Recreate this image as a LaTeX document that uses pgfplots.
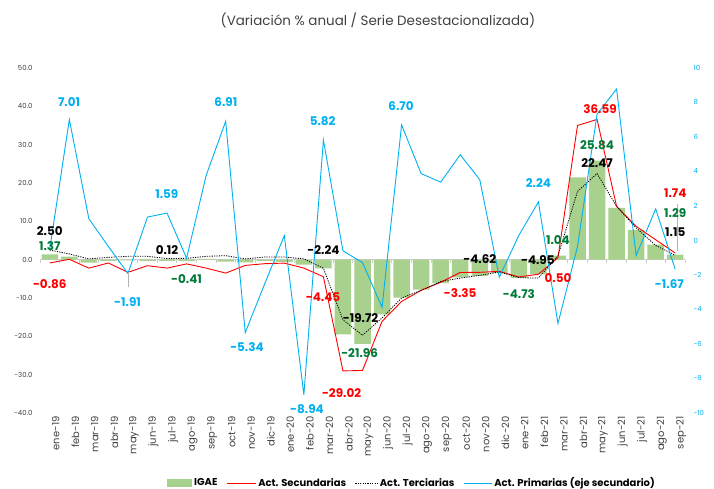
\documentclass[border=0pt]{standalone}
\usepackage{fontspec}
\setmainfont{Poppins}
\usepackage{pgfplots}
\usepackage{pgfplotstable}
\pgfplotsset{compat=1.18}
\definecolor{igae}{RGB}{169,209,142}
\definecolor{pblue}{RGB}{0,176,240}
\definecolor{lgreen}{RGB}{0,122,55}
\definecolor{tgray}{RGB}{64,64,64}
\pgfplotstableread{
x igae sec ter pri
0 1.37 -0.86 2.50 -0.50
1 0.80 0.10 1.50 7.01
2 -0.80 -2.20 0.20 1.26
3 -0.30 -0.87 0.60 -0.35
4 -0.20 -3.30 0.87 -1.91
5 -0.30 -1.57 0.87 1.36
6 -0.30 -2.20 0.30 1.59
7 -0.41 -1.10 0.35 -1.03
8 0.20 -2.20 0.87 3.77
9 -0.50 -3.50 1.04 6.91
10 -0.70 -1.50 0.20 -5.34
11 -0.30 -1.05 0.70 -2.50
12 -0.60 -0.90 0.70 0.28
13 -1.30 -2.20 0.20 -8.94
14 -2.30 -4.45 -2.24 5.82
15 -19.50 -29.02 -15.70 -0.60
16 -21.96 -28.90 -19.72 -1.28
17 -14.30 -16.10 -15.20 -3.88
18 -9.90 -10.90 -10.00 6.70
19 -7.80 -8.00 -8.00 3.88
20 -6.10 -5.90 -5.70 3.38
21 -4.60 -3.35 -4.80 4.97
22 -4.20 -3.30 -4.10 3.53
23 -3.50 -3.05 -3.20 -2.13
24 -4.73 -4.50 -4.70 0.30
25 -3.80 -3.80 -4.80 2.24
26 1.04 0.50 1.00 -4.81
27 21.50 35.00 17.80 -0.35
28 25.84 36.59 22.47 7.32
29 13.50 13.90 13.90 8.78
30 7.80 8.70 8.30 -0.87
31 3.90 5.20 3.70 1.83
32 1.29 1.74 1.15 -1.67
}\data
\pgfplotsset{base/.style={scale only axis, width=645bp, height=345bp,
  xmin=-0.5, xmax=32.5, clip=false, /pgf/number format/assume math mode=true}}
\tikzset{lab/.style={font=\fontsize{12}{12}\selectfont\bfseries, inner sep=0pt}}
\begin{document}
\begin{tikzpicture}
\path[use as bounding box] (-40bp,-76bp) rectangle (674bp,413bp);
% zero line with category ticks
\begin{axis}[base, ymin=-40, ymax=50, axis x line=middle, axis y line=none,
  xtick={-0.5,0.5,...,32.5}, xticklabels={}, x axis line style={draw=black!20,-},
  xtick style={draw=black!20, line width=0.8bp}, tick align=outside, major tick length=3.5bp, ytick=\empty]
\addplot[draw=none] coordinates {(0,0)};
\end{axis}
% main axis
\begin{axis}[base, ymin=-40, ymax=50,
  axis x line*=bottom, axis y line*=left, axis line style={draw=none}, major tick length=0pt,
  ytick={-40,-30,...,50},
  yticklabel={\pgfmathprintnumber[fixed,fixed zerofill,precision=1]{\tick}},
  yticklabel style={font=\fontsize{7}{7}\selectfont, text=tgray, xshift=-4bp},
  xtick={0,...,32},
  xticklabels={ene-19,feb-19,mar-19,abr-19,may-19,jun-19,jul-19,ago-19,sep-19,oct-19,nov-19,dic-19,ene-20,feb-20,mar-20,abr-20,may-20,jun-20,jul-20,ago-20,sep-20,oct-20,nov-20,dic-20,ene-21,feb-21,mar-21,abr-21,may-21,jun-21,jul-21,ago-21,sep-21},
  xticklabel style={rotate=90, anchor=east, font=\fontsize{10}{10}\selectfont, text=tgray, yshift=-6bp},
  legend style={at={(0.5767,-0.2029)}, anchor=center, draw=none, fill=none, legend columns=4,
    font=\fontsize{10}{10}\selectfont\bfseries, inner sep=0pt,
    /tikz/every even column/.append style={column sep=7bp}},
  legend cell align=left]
\addplot[ybar, bar width=16.5bp, fill=igae, draw=none,
  legend image code/.code={\fill[igae] (0bp,-3.5bp) rectangle (25bp,3.5bp);}] table[x=x,y=igae]{\data};
\addplot[red, line width=0.9bp, mark=none,
  legend image code/.code={\draw[red,line width=0.9bp] (0bp,0bp) -- (29bp,0bp);}] table[x=x,y=sec]{\data};
\addplot[black, line width=0.8bp, dash pattern=on 1.2bp off 1.2bp, mark=none,
  legend image code/.code={\draw[black,line width=0.8bp,dash pattern=on 1.2bp off 1.2bp] (0bp,0bp) -- (22bp,0bp);}] table[x=x,y=ter]{\data};
\addlegendimage{pblue, line width=0.9bp, legend image code/.code={\draw[pblue,line width=0.9bp] (0bp,0bp) -- (28bp,0bp);}}
\legend{IGAE, Act. Secundarias, Act. Terciarias, Act. Primarias (eje secundario)}
\end{axis}
% secondary axis
\begin{axis}[base, ymin=-10, ymax=10, axis x line=none, axis y line*=right,
  axis line style={draw=none}, major tick length=0pt, ytick={-10,-8,...,10},
  yticklabel style={font=\fontsize{7}{7}\selectfont, text=pblue, xshift=5bp}]
\addplot[pblue, line width=0.9bp, mark=none] table[x=x,y=pri]{\data};
\end{axis}
% labels
\begin{axis}[base, ymin=-40, ymax=50, hide axis]
\draw[black!30, line width=0.8bp] (axis cs:4,-3.3) -- (axis cs:4,-7.0);
\draw[black!30, line width=0.8bp] (axis cs:32.1,14.4) -- (axis cs:32.1,2.2);
\node[lab, text=pblue] at (axis cs:0.99,41.2) {7.01};
\node[lab, text=pblue] at (axis cs:9.01,41.1) {6.91};
\node[lab, text=pblue] at (axis cs:13.96,36.1) {5.82};
\node[lab, text=pblue] at (axis cs:5.99,17.2) {1.59};
\node[lab, text=pblue] at (axis cs:17.97,40.0) {6.70};
\node[lab, text=pblue] at (axis cs:25.0,20.0) {2.24};
\node[lab, text=pblue] at (axis cs:3.98,-11.1) {-1.91};
\node[lab, text=pblue] at (axis cs:10.09,-22.8) {-5.34};
\node[lab, text=pblue] at (axis cs:13.16,-38.9) {-8.94};
\node[lab, text=pblue] at (axis cs:31.7,-6.4) {-1.67};
\node[lab, text=red] at (axis cs:0,-6.4) {-0.86};
\node[lab, text=red] at (axis cs:13.98,-9.75) {-4.45};
\node[lab, text=red] at (axis cs:14.93,-34.7) {-29.02};
\node[lab, text=red] at (axis cs:21.0,-8.7) {-3.35};
\node[lab, text=red] at (axis cs:26.0,-4.8) {0.50};
\node[lab, text=red] at (axis cs:28.15,39.2) {36.59};
\node[lab, text=red] at (axis cs:32.0,17.4) {1.74};
\node[lab, text=lgreen] at (axis cs:0,3.66) {1.37};
\node[lab, text=lgreen] at (axis cs:7.0,-5.0) {-0.41};
\node[lab, text=lgreen] at (axis cs:15.85,-24.4) {-21.96};
\node[lab, text=lgreen] at (axis cs:24.0,-9.1) {-4.73};
\node[lab, text=lgreen] at (axis cs:26.0,5.2) {1.04};
\node[lab, text=lgreen] at (axis cs:28.0,30.0) {25.84};
\node[lab, text=lgreen] at (axis cs:32.0,12.2) {1.29};
\node[lab, text=black] at (axis cs:0,7.4) {2.50};
\node[lab, text=black] at (axis cs:6.0,2.6) {0.12};
\node[lab, text=black] at (axis cs:14.0,2.6) {-2.24};
\node[lab, text=black] at (axis cs:15.9,-15.2) {-19.72};
\node[lab, text=black] at (axis cs:22.0,0.2) {-4.62};
\node[lab, text=black] at (axis cs:24.97,0.0) {-4.95};
\node[lab, text=black] at (axis cs:28.0,25.1) {22.47};
\node[lab, text=black] at (axis cs:32.0,7.1) {1.15};
\end{axis}
\node[font=\fontsize{13.5}{13.5}\selectfont, text=tgray] at (338bp,393bp) {(Variación \% anual / Serie Desestacionalizada)};
\end{tikzpicture}
\end{document}
